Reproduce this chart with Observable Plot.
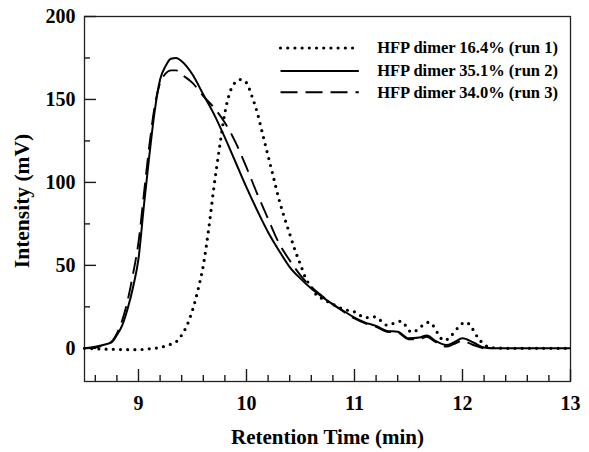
<!DOCTYPE html>
<html><head><meta charset="utf-8">
<script src="https://cdn.jsdelivr.net/npm/d3@7"></script>
<script src="https://cdn.jsdelivr.net/npm/@observablehq/plot@0.6"></script>
<style>body{margin:0;background:#fff}</style>
</head><body><div id="chart"></div>
<script>
// ---- data ----
const run1Time  = [8.5, 8.7, 8.9, 9.0, 9.1, 9.2, 9.3, 9.35, 9.4, 9.45, 9.5, 9.55, 9.6, 9.65, 9.7, 9.75, 9.8, 9.85, 9.9, 9.95, 10.0, 10.05, 10.1, 10.15, 10.2, 10.25, 10.3, 10.35, 10.4, 10.45, 10.5, 10.55, 10.6, 10.65, 10.7, 10.8, 10.9, 11.0, 11.1, 11.19, 11.3, 11.43, 11.53, 11.69, 11.83, 12.03, 12.17, 12.25, 12.4, 12.6, 12.8, 13.0];
const run1Value = [0, -0.5, -0.8, -0.8, -0.3, 0.5, 2.5, 4, 8, 14, 23, 35, 50, 72, 98, 121, 142, 155, 160.5, 162, 160, 152, 142, 129, 116, 103, 90, 79, 69, 59, 50.5, 42, 37, 32, 30, 26.5, 23.5, 22, 18.5, 19, 14, 16.3, 9.7, 15.7, 4.8, 15.7, 4.2, 0.6, 0, 0, 0, 0];

const run2Time  = [8.5, 8.6, 8.7, 8.75, 8.8, 8.85, 8.9, 8.95, 9.0, 9.05, 9.1, 9.15, 9.2, 9.25, 9.3, 9.35, 9.4, 9.5, 9.6, 9.7, 9.8, 9.9, 10.0, 10.1, 10.2, 10.3, 10.4, 10.5, 10.6, 10.7, 10.8, 10.9, 11.0, 11.1, 11.2, 11.3, 11.4, 11.5, 11.6, 11.67, 11.75, 11.85, 11.92, 12.0, 12.1, 12.2, 12.3, 12.5, 12.7, 13.0];
const run2Value = [0, 1, 2.5, 3.5, 8, 14, 24, 37, 54, 86, 116, 143, 162, 170, 174.5, 175, 173, 165, 153, 141, 127, 112, 97, 83, 70, 59, 49, 42, 36, 31, 26.5, 22.5, 18.5, 15.5, 13.5, 10.5, 10, 6, 6.5, 7.8, 4.5, 2, 3.5, 6, 3.5, 0.5, 0, 0, 0, 0];

const run3Time  = [8.5, 8.6, 8.7, 8.75, 8.8, 8.85, 8.9, 8.95, 9.0, 9.05, 9.1, 9.15, 9.2, 9.25, 9.3, 9.35, 9.4, 9.5, 9.6, 9.7, 9.8, 9.9, 10.0, 10.1, 10.2, 10.3, 10.4, 10.5, 10.6, 10.7, 10.8, 10.9, 11.0, 11.1, 11.2, 11.3, 11.4, 11.5, 11.6, 11.67, 11.75, 11.85, 11.92, 12.0, 12.1, 12.25];
const run3Value = [0, 0.5, 2.5, 4, 9, 17, 29, 45, 64, 93, 122, 146, 160, 165.5, 167.5, 167.5, 165, 160, 152, 145, 136, 124, 109, 93, 78, 63.5, 53, 44, 37, 31.5, 26.5, 22, 18, 15, 13, 10, 9.5, 5.5, 5.5, 7, 3.8, 1, 2.5, 4.5, 2, -1];

const seriesNames = ["HFP dimer 16.4% (run 1)", "HFP dimer 35.1% (run 2)", "HFP dimer 34.0% (run 3)"];
const xMajorTicks = [9, 10, 11, 12, 13];
const xMinorTicks = [8.6, 8.8, 9.2, 9.4, 9.6, 9.8, 10.2, 10.4, 10.6, 10.8, 11.2, 11.4, 11.6, 11.8, 12.2, 12.4, 12.6, 12.8];
const yMajorTicks = [0, 50, 100, 150, 200];
const yMinorTicks = [25, 75, 125, 175];
const xLabel = "Retention Time (min)";
const yLabel = "Intensity (mV)";

// ---- layout / styles ----
const W = 589, H = 452, mL = 84, mR = 19, mT = 16, mB = 71;
const xDomain = [8.5, 13], yDomain = [-20, 200];
const frameW = W - mL - mR, frameH = H - mT - mB;
const majorLen = 12, minorLen = 6; // px
const legendLineX = [10.315, 11.04];
const legendTextX = 11.21;
const legendRowY = [181, 167.2, 154.3];
const dashStyles = ["0 7.2", null, "17 8"];
const widths = [3.2, 2, 1.9];

const toRows = (ts, vs) => ts.map((t, i) => ({t, v: vs[i]}));
const runs = [toRows(run1Time, run1Value), toRows(run2Time, run2Value), toRows(run3Time, run3Value)];

const font = "'Liberation Serif', 'Times New Roman', serif";
const tickStyle = {stroke: "#1a1a1a", strokeWidth: 1.4};

const marks = [
  Plot.frame({stroke: "#222", strokeWidth: 1.3}),
  // inward ticks (pixel lengths via insets)
  Plot.ruleX(xMajorTicks, {x: d => d, insetTop: frameH - majorLen, ...tickStyle}),
  Plot.ruleX(xMinorTicks, {x: d => d, insetTop: frameH - minorLen, ...tickStyle}),
  Plot.ruleY(yMajorTicks, {y: d => d, insetRight: frameW - majorLen, ...tickStyle}),
  Plot.ruleY(yMinorTicks, {y: d => d, insetRight: frameW - minorLen, ...tickStyle}),
  // tick labels
  Plot.axisX(xMajorTicks, {tickSize: 0, tickPadding: 14, label: null, fontSize: 20, fontWeight: "bold", fill: "#000", tickFormat: d => String(d)}),
  Plot.axisY(yMajorTicks, {tickSize: 0, tickPadding: 9, label: null, fontSize: 20, fontWeight: "bold", fill: "#000", tickFormat: d => String(d)}),
  Plot.text([xLabel], {frameAnchor: "bottom", dy: 62, text: d => d, fontSize: 21, fontWeight: "bold", fill: "#000"}),
  Plot.text([yLabel], {frameAnchor: "left", textAnchor: "middle", lineAnchor: "middle", dx: -62, dy: 2, rotate: -90, text: d => d, fontSize: 21.5, fontWeight: "bold", fill: "#000"})
];

runs.forEach((rows, i) => {
  marks.push(Plot.line(rows, {
    x: "t", y: "v", curve: "monotone-x",
    stroke: "#000", strokeWidth: widths[i],
    strokeDasharray: dashStyles[i] || undefined,
    strokeLinecap: i === 0 ? "round" : "butt"
  }));
});
// legend
seriesNames.forEach((name, i) => {
  marks.push(Plot.line(legendLineX.map(x => ({x, y: legendRowY[i]})), {
    x: "x", y: "y", stroke: "#000", strokeWidth: widths[i],
    strokeDasharray: dashStyles[i] || undefined,
    strokeLinecap: i === 0 ? "round" : "butt"
  }));
  marks.push(Plot.text([name], {
    x: legendTextX, y: legendRowY[i], text: d => d, textAnchor: "start",
    fontSize: 16.5, fontWeight: "bold", fill: "#000"
  }));
});

const chart = Plot.plot({
  width: W, height: H,
  marginLeft: mL, marginRight: mR, marginTop: mT, marginBottom: mB,
  x: {domain: xDomain},
  y: {domain: yDomain},
  style: {fontFamily: font, background: "#fff", color: "#000", overflow: "visible"},
  marks
});
document.getElementById("chart").appendChild(chart);
</script>
</body></html>
